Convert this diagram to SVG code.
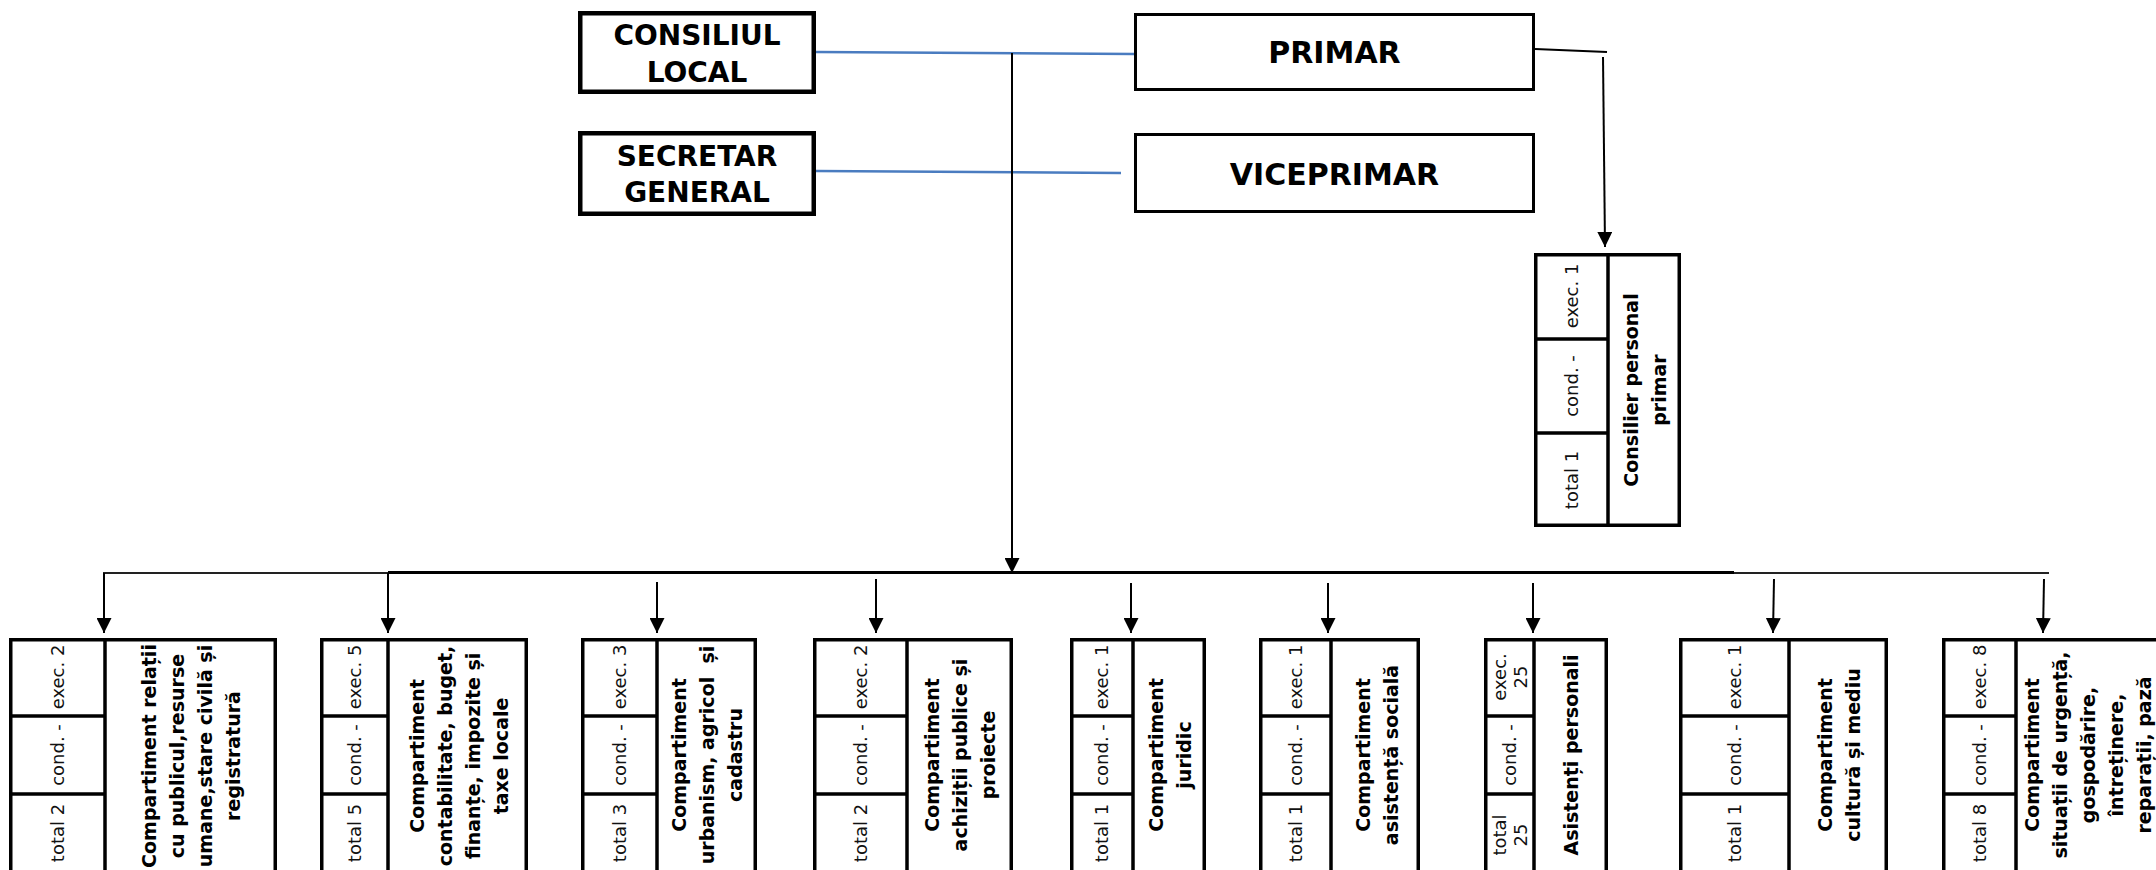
<svg xmlns="http://www.w3.org/2000/svg" width="2156" height="870" viewBox="0 0 2156 870">
<style>
.bg{fill:#ffffff}
.box{fill:#ffffff;stroke:#000000;stroke-width:3.5}
.tbox{fill:#ffffff;stroke:#000000;stroke-width:4.5}
.pbox{fill:#ffffff;stroke:#000000;stroke-width:3}
.div{stroke:#000000;stroke-width:3.5;fill:none}
.conn{stroke:#000000;stroke-width:2;fill:none}
.bus{stroke:#222222;stroke-width:1.8;fill:none}
.busb{stroke:#000000;stroke-width:3.2;fill:none}
.blue{stroke:#4a7cc0;stroke-width:2.4;fill:none}
.ttop{font-family:"DejaVu Sans",Verdana,sans-serif;font-weight:bold;font-size:28px;text-anchor:middle;fill:#000}
.tp{font-family:"DejaVu Sans",Verdana,sans-serif;font-weight:bold;font-size:30px;text-anchor:middle;fill:#000}
.lbl{font-family:"DejaVu Sans",Verdana,sans-serif;font-size:18px;text-anchor:middle;dominant-baseline:central;fill:#111}
.ttl{font-family:"DejaVu Sans",Verdana,sans-serif;font-weight:bold;font-size:19px;text-anchor:middle;dominant-baseline:central;fill:#000}
</style>
<defs>
<marker id="arr" viewBox="0 0 10 10" refX="10" refY="5" markerUnits="userSpaceOnUse" markerWidth="15" markerHeight="15" orient="auto">
<path d="M0,0 L10,5 L0,10 z" fill="#000"/>
</marker>
</defs>
<rect class="bg" x="0" y="0" width="2156" height="870"/>

<g id="connectors">
<line class="blue" x1="816" y1="52" x2="1134" y2="54"/>
<line class="blue" x1="816" y1="171" x2="1121" y2="173"/>
<line class="conn" x1="1012" y1="53" x2="1012" y2="573" marker-end="url(#arr)"/>
<line class="conn" x1="1535" y1="49" x2="1607" y2="52"/>
<line class="conn" x1="1603" y1="57" x2="1605" y2="247" marker-end="url(#arr)"/>
<line class="bus" x1="103" y1="573" x2="2049" y2="573"/>
<line class="busb" x1="388" y1="572.5" x2="1734" y2="572.5"/>
<line class="conn" x1="104" y1="573" x2="104" y2="633" marker-end="url(#arr)"/>
<line class="conn" x1="388" y1="573" x2="388" y2="633" marker-end="url(#arr)"/>
<line class="conn" x1="657" y1="582" x2="657" y2="633" marker-end="url(#arr)"/>
<line class="conn" x1="876" y1="579" x2="876" y2="633" marker-end="url(#arr)"/>
<line class="conn" x1="1131" y1="583" x2="1131" y2="633" marker-end="url(#arr)"/>
<line class="conn" x1="1328" y1="583" x2="1328" y2="633" marker-end="url(#arr)"/>
<line class="conn" x1="1533" y1="583" x2="1533" y2="633" marker-end="url(#arr)"/>
<line class="conn" x1="1774" y1="579" x2="1773" y2="633" marker-end="url(#arr)"/>
<line class="conn" x1="2044" y1="579" x2="2043" y2="633" marker-end="url(#arr)"/>
</g>

<g id="consiliul-local">
<rect class="tbox" x="580.25" y="13.25" width="233.5" height="78.5"/>
<text class="ttop" x="697" y="45">CONSILIUL</text>
<text class="ttop" x="697" y="82">LOCAL</text>
</g>
<g id="secretar-general">
<rect class="tbox" x="580.25" y="133.25" width="233.5" height="80.5"/>
<text class="ttop" x="697" y="166">SECRETAR</text>
<text class="ttop" x="697" y="202">GENERAL</text>
</g>
<g id="primar">
<rect class="pbox" x="1135.5" y="14.5" width="398" height="75"/>
<text class="tp" x="1334.5" y="63">PRIMAR</text>
</g>
<g id="viceprimar">
<rect class="pbox" x="1135.5" y="134.5" width="398" height="77"/>
<text class="tp" x="1334.5" y="185">VICEPRIMAR</text>
</g>

<g id="consilier-personal">
<rect class="box" x="1535.75" y="254.75" width="143.5" height="270.5"/>
<line class="div" x1="1608" y1="253" x2="1608" y2="527"/>
<line class="div" x1="1534" y1="339" x2="1608" y2="339"/>
<line class="div" x1="1534" y1="433" x2="1608" y2="433"/>
<text class="lbl" transform="translate(1571,296) rotate(-90)">exec. 1</text>
<text class="lbl" transform="translate(1571,386) rotate(-90)">cond. -</text>
<text class="lbl" transform="translate(1571,480) rotate(-90)">total 1</text>
<text class="ttl" transform="translate(1644.5,390) rotate(-90)"><tspan x="0" y="-14">Consilier personal</tspan><tspan x="0" y="14">primar</tspan></text>
</g>

<g id="comp-relatii">
<rect class="box" x="10.75" y="639.75" width="264.5" height="240"/>
<line class="div" x1="105" y1="638" x2="105" y2="880"/>
<line class="div" x1="9" y1="716" x2="105" y2="716"/>
<line class="div" x1="9" y1="794" x2="105" y2="794"/>
<text class="lbl" transform="translate(57,677) rotate(-90)">exec. 2</text>
<text class="lbl" transform="translate(57,755) rotate(-90)">cond. -</text>
<text class="lbl" transform="translate(57,833) rotate(-90)">total 2</text>
<text class="ttl" transform="translate(191,756) rotate(-90)"><tspan x="0" y="-42">Compartiment relații</tspan><tspan x="0" y="-14">cu publicul,resurse</tspan><tspan x="0" y="14">umane,stare civilă și</tspan><tspan x="0" y="42">registratură</tspan></text>
</g>

<g id="comp-contabilitate">
<rect class="box" x="321.75" y="639.75" width="204.5" height="240"/>
<line class="div" x1="388" y1="638" x2="388" y2="880"/>
<line class="div" x1="320" y1="716" x2="388" y2="716"/>
<line class="div" x1="320" y1="794" x2="388" y2="794"/>
<text class="lbl" transform="translate(354,677) rotate(-90)">exec. 5</text>
<text class="lbl" transform="translate(354,755) rotate(-90)">cond. -</text>
<text class="lbl" transform="translate(354,833) rotate(-90)">total 5</text>
<text class="ttl" transform="translate(459,756) rotate(-90)"><tspan x="0" y="-42">Compartiment</tspan><tspan x="0" y="-14">contabilitate, buget,</tspan><tspan x="0" y="14">finanțe, impozite și</tspan><tspan x="0" y="42">taxe locale</tspan></text>
</g>

<g id="comp-urbanism">
<rect class="box" x="582.75" y="639.75" width="172.5" height="240"/>
<line class="div" x1="657" y1="638" x2="657" y2="880"/>
<line class="div" x1="581" y1="716" x2="657" y2="716"/>
<line class="div" x1="581" y1="794" x2="657" y2="794"/>
<text class="lbl" transform="translate(619,677) rotate(-90)">exec. 3</text>
<text class="lbl" transform="translate(619,755) rotate(-90)">cond. -</text>
<text class="lbl" transform="translate(619,833) rotate(-90)">total 3</text>
<text class="ttl" transform="translate(707,755) rotate(-90)" xml:space="preserve"><tspan x="0" y="-28">Compartiment</tspan><tspan x="0" y="0">urbanism, agricol  și</tspan><tspan x="0" y="28">cadastru</tspan></text>
</g>

<g id="comp-achizitii">
<rect class="box" x="814.75" y="639.75" width="196.5" height="240"/>
<line class="div" x1="907" y1="638" x2="907" y2="880"/>
<line class="div" x1="813" y1="716" x2="907" y2="716"/>
<line class="div" x1="813" y1="794" x2="907" y2="794"/>
<text class="lbl" transform="translate(860,677) rotate(-90)">exec. 2</text>
<text class="lbl" transform="translate(860,755) rotate(-90)">cond. -</text>
<text class="lbl" transform="translate(860,833) rotate(-90)">total 2</text>
<text class="ttl" transform="translate(960,755) rotate(-90)"><tspan x="0" y="-28">Compartiment</tspan><tspan x="0" y="0">achiziții publice și</tspan><tspan x="0" y="28">proiecte</tspan></text>
</g>

<g id="comp-juridic">
<rect class="box" x="1071.75" y="639.75" width="132.5" height="240"/>
<line class="div" x1="1133" y1="638" x2="1133" y2="880"/>
<line class="div" x1="1070" y1="716" x2="1133" y2="716"/>
<line class="div" x1="1070" y1="794" x2="1133" y2="794"/>
<text class="lbl" transform="translate(1101.5,677) rotate(-90)">exec. 1</text>
<text class="lbl" transform="translate(1101.5,755) rotate(-90)">cond. -</text>
<text class="lbl" transform="translate(1101.5,833) rotate(-90)">total 1</text>
<text class="ttl" transform="translate(1170,755) rotate(-90)"><tspan x="0" y="-14">Compartiment</tspan><tspan x="0" y="14">juridic</tspan></text>
</g>

<g id="comp-asistenta">
<rect class="box" x="1260.75" y="639.75" width="157.5" height="240"/>
<line class="div" x1="1331" y1="638" x2="1331" y2="880"/>
<line class="div" x1="1259" y1="716" x2="1331" y2="716"/>
<line class="div" x1="1259" y1="794" x2="1331" y2="794"/>
<text class="lbl" transform="translate(1295,677) rotate(-90)">exec. 1</text>
<text class="lbl" transform="translate(1295,755) rotate(-90)">cond. -</text>
<text class="lbl" transform="translate(1295,833) rotate(-90)">total 1</text>
<text class="ttl" transform="translate(1377,755) rotate(-90)"><tspan x="0" y="-14">Compartiment</tspan><tspan x="0" y="14">asistență socială</tspan></text>
</g>

<g id="asistenti-personali">
<rect class="box" x="1485.75" y="639.75" width="120.5" height="240"/>
<line class="div" x1="1534" y1="638" x2="1534" y2="880"/>
<line class="div" x1="1484" y1="716" x2="1534" y2="716"/>
<line class="div" x1="1484" y1="794" x2="1534" y2="794"/>
<text class="lbl" transform="translate(1509,677) rotate(-90)"><tspan x="0" y="-10.5">exec.</tspan><tspan x="0" y="10.5">25</tspan></text>
<text class="lbl" transform="translate(1509,755) rotate(-90)">cond. -</text>
<text class="lbl" transform="translate(1509,835) rotate(-90)"><tspan x="0" y="-10.5">total</tspan><tspan x="0" y="10.5">25</tspan></text>
<text class="ttl" transform="translate(1571,755) rotate(-90)">Asistenți personali</text>
</g>

<g id="comp-cultura">
<rect class="box" x="1680.75" y="639.75" width="205.5" height="240"/>
<line class="div" x1="1789" y1="638" x2="1789" y2="880"/>
<line class="div" x1="1679" y1="716" x2="1789" y2="716"/>
<line class="div" x1="1679" y1="794" x2="1789" y2="794"/>
<text class="lbl" transform="translate(1734,677) rotate(-90)">exec. 1</text>
<text class="lbl" transform="translate(1734,755) rotate(-90)">cond. -</text>
<text class="lbl" transform="translate(1734,833) rotate(-90)">total 1</text>
<text class="ttl" transform="translate(1838.5,755) rotate(-90)"><tspan x="0" y="-14">Compartiment</tspan><tspan x="0" y="14">cultură și mediu</tspan></text>
</g>

<g id="comp-situatii">
<rect class="box" x="1943.75" y="639.75" width="240" height="240"/>
<line class="div" x1="2016" y1="638" x2="2016" y2="880"/>
<line class="div" x1="1942" y1="716" x2="2016" y2="716"/>
<line class="div" x1="1942" y1="794" x2="2016" y2="794"/>
<text class="lbl" transform="translate(1979,677) rotate(-90)">exec. 8</text>
<text class="lbl" transform="translate(1979,755) rotate(-90)">cond. -</text>
<text class="lbl" transform="translate(1979,833) rotate(-90)">total 8</text>
<text class="ttl" transform="translate(2088,755) rotate(-90)"><tspan x="0" y="-56">Compartiment</tspan><tspan x="0" y="-28">situații de urgență,</tspan><tspan x="0" y="0">gospodărire,</tspan><tspan x="0" y="28">întreținere,</tspan><tspan x="0" y="56">reparații, pază</tspan></text>
</g>
</svg>
